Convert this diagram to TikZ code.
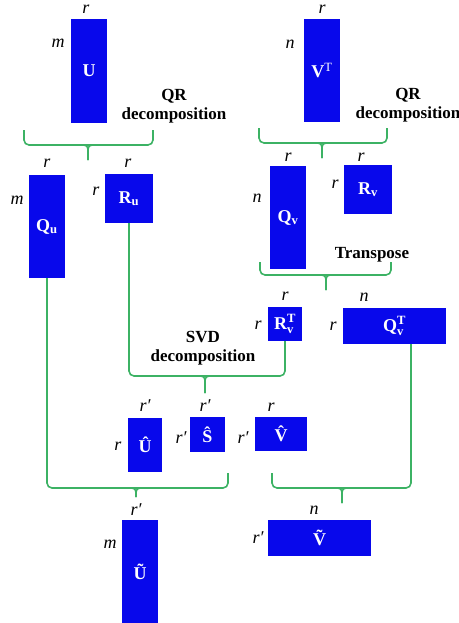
\documentclass[tikz,border=0pt]{standalone}
\usepackage{amsmath}
\usepackage{fontspec}
\setmainfont{Liberation Serif}
\definecolor{matblue}{RGB}{8,8,235}
\definecolor{bracegreen}{RGB}{60,178,100}
\tikzset{
  mat/.style={fill=matblue, text=white, font=\bfseries\fontsize{18}{20}\selectfont, inner sep=0pt},
  dim/.style={font=\itshape\fontsize{18}{20}\selectfont, inner sep=0pt},
  note/.style={font=\bfseries\fontsize{17}{19}\selectfont, align=center, inner sep=0pt},
  brace/.style={draw=bracegreen, line width=1.6pt, rounded corners=5pt},
  tick/.style={draw=bracegreen, line width=1.6pt, rounded corners=4pt},
}
\begin{document}
\begin{tikzpicture}[x=1pt, y=-1pt]
            \useasboundingbox (0,0) rectangle (458,623);

            % matrices
            \node[mat, minimum width=36pt, minimum height=104pt] (U) at (89,71) {U};
            \node[mat, minimum width=36pt, minimum height=103pt] (VT) at (322,70.5) {V\textsuperscript{\mdseries T}};
            \node[mat, minimum width=36pt, minimum height=103pt] (Qu) at (47,226.5) {Q\textsubscript{u}};
            \node[mat, minimum width=48pt, minimum height=49pt] (Ru) at (129,198.5) {R\textsubscript{u}};
            \node[mat, minimum width=36pt, minimum height=103pt] (Qv) at (288,217.5) {Q\textsubscript{v}};
            \node[mat, minimum width=48pt, minimum height=49pt] (Rv) at (368,189.5) {R\textsubscript{v}};
            \node[mat, minimum width=34pt, minimum height=34pt] (RvT) at (285,324) {R$^{\text{\bfseries T}}_{\text{\bfseries v}}$};
            \node[mat, minimum width=103pt, minimum height=36pt] (QvT) at (394.5,326) {Q$^{\text{\bfseries T}}_{\text{\bfseries v}}$};
            \node[mat, minimum width=34pt, minimum height=54pt] (Uh) at (145,445) {\^{U}};
            \node[mat, minimum width=35pt, minimum height=35pt] (Sh) at (207.5,434.5) {\^{S}};
            \node[mat, minimum width=52pt, minimum height=34pt] (Vh) at (281,434) {\^{V}};
            \node[mat, minimum width=36pt, minimum height=103pt] (Ut) at (140,571.5) {\~{U}};
            \node[mat, minimum width=103pt, minimum height=36pt] (Vt) at (319.5,538) {\~{V}};

            % sizes
            \node[dim] (U-r) at (86,9) {r};
            \node[dim] (U-m) at (58,43) {m};
            \node[dim] (VT-r) at (322,9) {r};
            \node[dim] (VT-n) at (290,44) {n};
            \node[dim] (Qu-r) at (47,163) {r};
            \node[dim] (Qu-m) at (17,200) {m};
            \node[dim] (Ru-r) at (128,163) {r};
            \node[dim] (Ru-l) at (96,191) {r};
            \node[dim] (Qv-r) at (288,157) {r};
            \node[dim] (Qv-n) at (257,198) {n};
            \node[dim] (Rv-r) at (361,157) {r};
            \node[dim] (Rv-l) at (335,184) {r};
            \node[dim] (RvT-r) at (285,296) {r};
            \node[dim] (RvT-l) at (258,325) {r};
            \node[dim] (QvT-n) at (364,297) {n};
            \node[dim] (QvT-l) at (333,326) {r};
            \node[dim] (Uh-r) at (145,406) {r′};
            \node[dim] (Uh-l) at (118,446) {r};
            \node[dim] (Sh-r) at (205,406) {r′};
            \node[dim] (Sh-l) at (181,438) {r′};
            \node[dim] (Vh-r) at (271,407) {r};
            \node[dim] (Vh-l) at (243,438) {r′};
            \node[dim] (Ut-r) at (136,510) {r′};
            \node[dim] (Ut-m) at (110,544) {m};
            \node[dim] (Vt-n) at (314,510) {n};
            \node[dim] (Vt-l) at (258,538) {r′};

            % steps
            \node[note] (qr1) at (174,106) {QR\\decomposition};
            \node[note] (qr2) at (408,105) {QR\\decomposition};
            \node[note] (tr) at (372,255) {Transpose};
            \node[note] (svd) at (203,348) {SVD\\decomposition};

            % brackets
            \coordinate (b1l) at (24,130);
            \coordinate (b1r) at (153,130);
            \coordinate (t1) at (88,160);
            \draw[brace] (b1l) -- (24,145) -- (153,145) -- (b1r);
            \draw[tick] (80,145) -| (t1);
            \draw[tick] (96,145) -| (t1);

            \coordinate (b2l) at (259,128);
            \coordinate (b2r) at (387,128);
            \coordinate (t2) at (322,158);
            \draw[brace] (b2l) -- (259,143) -- (387,143) -- (b2r);
            \draw[tick] (314,143) -| (t2);
            \draw[tick] (330,143) -| (t2);

            \coordinate (b3l) at (260,262);
            \coordinate (b3r) at (391,262);
            \coordinate (t3) at (326,290);
            \draw[brace] (b3l) -- (260,275) -- (391,275) -- (b3r);
            \draw[tick] (318,275) -| (t3);
            \draw[tick] (334,275) -| (t3);

            \coordinate (t4) at (205,393);
            \draw[brace] (Ru.south) -- (129,376) -- (285,376) -- (RvT.south);
            \draw[tick] (197,376) -| (t4);
            \draw[tick] (213,376) -| (t4);

            \coordinate (b5r) at (228,473);
            \coordinate (t5) at (136,497);
            \draw[brace] (Qu.south) -- (47,488) -- (228,488) -- (b5r);
            \draw[tick] (128,488) -| (t5);
            \draw[tick] (144,488) -| (t5);

            \coordinate (b6l) at (272,473);
            \coordinate (t6) at (342,503);
            \draw[brace] (b6l) -- (272,488) -- (411,488) -- ([xshift=16.5pt]QvT.south);
            \draw[tick] (334,488) -| (t6);
            \draw[tick] (350,488) -| (t6);
        \end{tikzpicture}
\end{document}
